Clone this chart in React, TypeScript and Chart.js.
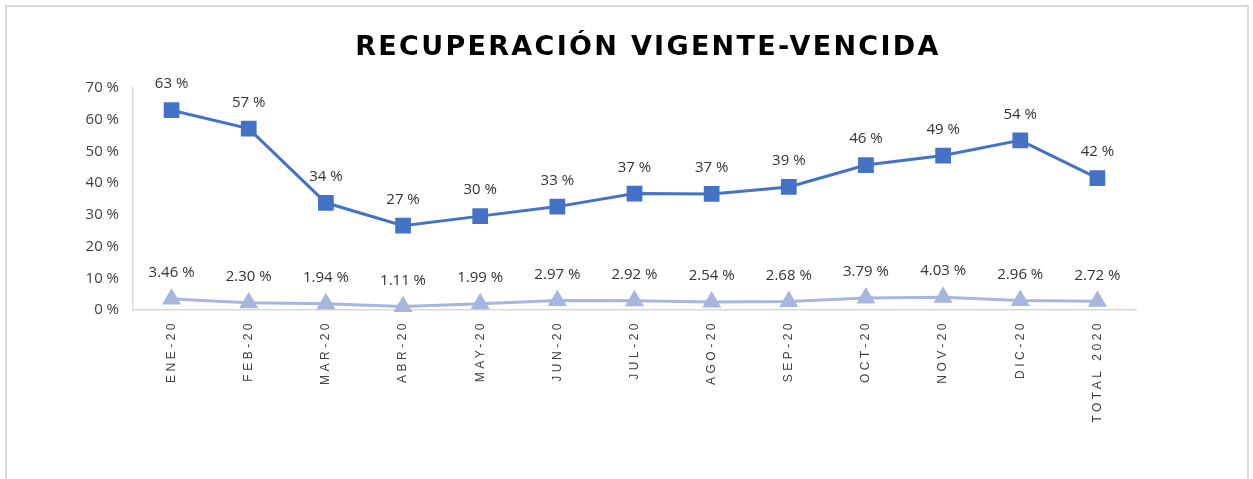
import React, { useEffect, useRef } from 'react';
import { Chart, registerables } from 'chart.js';

Chart.register(...registerables);

const titleText = 'RECUPERACIÓN VIGENTE-VENCIDA';
const categories = ['ENE-20', 'FEB-20', 'MAR-20', 'ABR-20', 'MAY-20', 'JUN-20', 'JUL-20', 'AGO-20', 'SEP-20', 'OCT-20', 'NOV-20', 'DIC-20', 'TOTAL 2020'];
const recuperacion = [63.0, 57.2, 33.8, 26.6, 29.6, 32.6, 36.7, 36.6, 38.8, 45.7, 48.7, 53.5, 41.6];
const vencida = [3.46, 2.30, 1.94, 1.11, 1.99, 2.97, 2.92, 2.54, 2.68, 3.79, 4.03, 2.96, 2.72];
const yMin = 0;
const yMax = 70;
const yStep = 10;

const MAIN = '#4472C4';
const LIGHT = '#A7B6DF';

export default function App() {
  const ref = useRef<HTMLCanvasElement>(null);
  useEffect(() => {
    const canvas = ref.current;
    if (!canvas) return;

    const titlePlugin = {
      id: 'customTitle',
      afterDraw(chart: any) {
        const ctx = chart.ctx;
        ctx.save();
        ctx.font = 'bold 27px "DejaVu Sans"';
        (ctx as any).letterSpacing = '2.3px';
        ctx.fillStyle = '#000000';
        ctx.textAlign = 'center';
        ctx.textBaseline = 'middle';
        ctx.fillText(titleText, 648, 48);
        ctx.restore();
      },
    };

    const labelsPlugin = {
      id: 'dataLabels',
      afterDatasetsDraw(chart: any) {
        const ctx = chart.ctx;
        ctx.save();
        ctx.font = '15px "Open Sans"';
        ctx.fillStyle = '#333333';
        ctx.textAlign = 'center';
        ctx.textBaseline = 'middle';
        chart.data.datasets.forEach((ds: any, di: number) => {
          const meta = chart.getDatasetMeta(di);
          meta.data.forEach((pt: any, i: number) => {
            const v = ds.data[i] as number;
            const txt = di === 0 ? v.toFixed(0) + ' %' : v.toFixed(2) + ' %';
            ctx.fillText(txt, pt.x, pt.y - 26);
          });
        });
        ctx.restore();
      },
    };

    const xLabelsPlugin = {
      id: 'xLabels',
      afterDraw(chart: any) {
        const ctx = chart.ctx;
        const xs = chart.scales.x;
        const top = chart.chartArea.bottom + 10;
        ctx.save();
        ctx.font = '12px "Liberation Sans"';
        ctx.fillStyle = '#404040';
        (ctx as any).letterSpacing = '3.5px';
        ctx.textAlign = 'right';
        ctx.textBaseline = 'middle';
        categories.forEach((c, i) => {
          const x = xs.getPixelForValue(i);
          ctx.save();
          ctx.translate(x, top);
          ctx.rotate(-Math.PI / 2);
          ctx.fillText(c, 0, 0);
          ctx.restore();
        });
        ctx.restore();
      },
    };

    const chart = new Chart(canvas, {
      type: 'line',
      data: {
        labels: categories,
        datasets: [
          {
            data: recuperacion,
            borderColor: MAIN,
            backgroundColor: MAIN,
            borderWidth: 3,
            pointStyle: 'rect',
            pointRadius: 9,
            pointHoverRadius: 9,
            tension: 0,
            clip: false as any,
          },
          {
            data: vencida,
            borderColor: LIGHT,
            backgroundColor: LIGHT,
            borderWidth: 3,
            pointStyle: 'triangle',
            pointRadius: 8,
            pointHoverRadius: 8,
            tension: 0,
            clip: false as any,
          },
        ],
      },
      options: {
        animation: false,
        responsive: false,
        maintainAspectRatio: false,
        layout: { padding: { top: 88, right: 117, bottom: 0, left: 0 } },
        plugins: {
          legend: { display: false },
          title: { display: false },
          tooltip: { enabled: false },
        },
        scales: {
          x: {
            offset: true,
            grid: { display: true, color: 'transparent', drawTicks: false },
            border: { display: true, color: '#D9D9D9', width: 1.5 },
            ticks: { display: false },
            afterFit: (s: any) => { s.height = 169; },
          },
          y: {
            min: yMin,
            max: yMax,
            grid: { display: true, color: 'transparent', drawTicks: false },
            border: { display: true, color: '#D9D9D9', width: 1.5 },
            ticks: {
              stepSize: yStep,
              padding: 14,
              color: '#404040',
              font: { size: 15, family: '"Open Sans"' },
              callback: (v: any) => v + ' %',
            },
            afterFit: (s: any) => { s.width = 133; },
          },
        },
      },
      plugins: [titlePlugin, labelsPlugin, xLabelsPlugin],
    });
    return () => chart.destroy();
  }, []);

  return (
    <div style={{ position: 'absolute', left: 0, top: 0, width: 1253, height: 479, overflow: 'hidden', background: '#fff' }}>
      <div style={{ position: 'absolute', left: 5, top: 5, width: 1244, height: 600, border: '2px solid #D9D9D9', boxSizing: 'border-box' }} />
      <canvas ref={ref} width={1253} height={479} style={{ position: 'absolute', left: 0, top: 0 }} />
    </div>
  );
}
